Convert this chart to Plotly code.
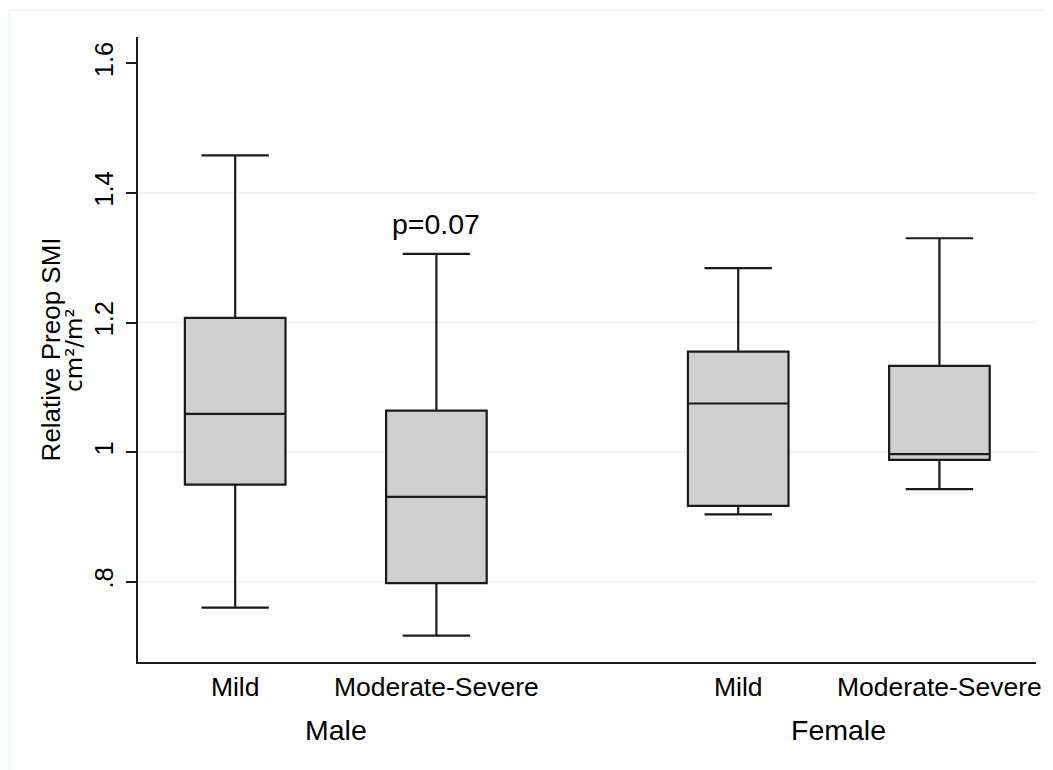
import plotly.graph_objects as go

# ---- data ----
groups = ["Male", "Female"]
severities = ["Mild", "Moderate-Severe", "Mild", "Moderate-Severe"]
positions = [0, 1, 2.5, 3.5]
lower_whisker = [0.760, 0.717, 0.904, 0.943]
q1_vals = [0.950, 0.798, 0.917, 0.988]
median_vals = [1.059, 0.931, 1.075, 0.997]
q3_vals = [1.207, 1.064, 1.155, 1.133]
upper_whisker = [1.458, 1.306, 1.284, 1.330]
y_tickvals = [0.8, 1.0, 1.2, 1.4, 1.6]
y_ticktext = [".8", "1", "1.2", "1.4", "1.6"]
grid_vals = [0.8, 1.0, 1.2, 1.4]
p_label = "p=0.07"
p_pos = (1, 1.352)

# ---- layout geometry (page has an 8px body margin) ----
OFF = 8
W, H = 1053 - OFF, 770 - OFF
ML, MR, MT, MB = 137.6 - OFF, 17, 36.7 - OFF, 107.7
PW, PH = W - ML - MR, H - MT - MB
FONT = "Liberation Sans, Arial, Helvetica, sans-serif"
LINE = "#1a1a1a"
FILL = "#cfcfcf"
GRID = "#eaf2f3"


def px_x(px):
    return (px - OFF - ML) / PW


def px_y(py):
    return 1 - (py - OFF - MT) / PH


fig = go.Figure()
for i, pos in enumerate(positions):
    fig.add_trace(go.Box(
        x=[pos], q1=[q1_vals[i]], median=[median_vals[i]], q3=[q3_vals[i]],
        lowerfence=[lower_whisker[i]], upperfence=[upper_whisker[i]],
        width=0.5, whiskerwidth=0.67, boxpoints=False,
        fillcolor=FILL, line=dict(color=LINE, width=2.2),
        showlegend=False, hoverinfo="skip",
    ))

shapes = []
for g in grid_vals:
    shapes.append(dict(type="line", xref="paper", yref="y", x0=0, x1=1, y0=g, y1=g,
                       line=dict(color=GRID, width=1.6), layer="below"))
# outer graph-region border (top and left visible)
shapes.append(dict(type="rect", xref="paper", yref="paper",
                   x0=px_x(8.8), x1=px_x(1070), y0=px_y(790), y1=px_y(10),
                   line=dict(color=GRID, width=1.5), layer="below"))

annotations = []
# group labels
for gi, g in enumerate(groups):
    cx = (positions[2 * gi] + positions[2 * gi + 1]) / 2
    annotations.append(dict(x=cx, xref="x", y=0, yref="paper", yanchor="middle",
                            yshift=-(730 - 662.3), text=g, showarrow=False,
                            font=dict(family=FONT, size=28.5, color="black")))
# p-value
annotations.append(dict(x=p_pos[0], y=p_pos[1], xref="x", yref="y", text=p_label,
                        showarrow=False, yanchor="middle",
                        font=dict(family=FONT, size=28.5, color="black")))
# y-axis title (two lines)
annotations.append(dict(x=0, xref="paper", y=0.5, yref="paper", xanchor="center",
                        yanchor="middle", xshift=50.5 - 137.6, textangle=-90,
                        text="Relative Preop SMI", showarrow=False,
                        font=dict(family=FONT, size=26, color="black")))
annotations.append(dict(x=0, xref="paper", y=0.5, yref="paper", xanchor="center",
                        yanchor="middle", xshift=73 - 137.6, textangle=-90,
                        text="cm²/m²", showarrow=False,
                        font=dict(family="DejaVu Sans, sans-serif", size=23, color="black")))

fig.update_layout(
    width=W, height=H,
    margin=dict(l=ML, r=MR, t=MT, b=MB, pad=0),
    paper_bgcolor="white", plot_bgcolor="white",
    font=dict(family=FONT, color="black"),
    shapes=shapes, annotations=annotations,
    xaxis=dict(range=[-0.483, 3.98], tickvals=positions, ticktext=severities,
               ticks="", showgrid=False, zeroline=False, showline=True,
               linecolor=LINE, linewidth=2, tickfont=dict(size=26.5, family=FONT),
               ticklabelstandoff=0, automargin=False),
    yaxis=dict(range=[0.6762, 1.6405], tickvals=y_tickvals, ticktext=y_ticktext,
               ticks="outside", ticklen=10, tickwidth=2, tickcolor=LINE,
               tickangle=-90, showgrid=False, zeroline=False, showline=True,
               linecolor=LINE, linewidth=2, tickfont=dict(size=25.5, family=FONT),
               ticklabelstandoff=3, automargin=False),
)

fig.write_html("out.html")
